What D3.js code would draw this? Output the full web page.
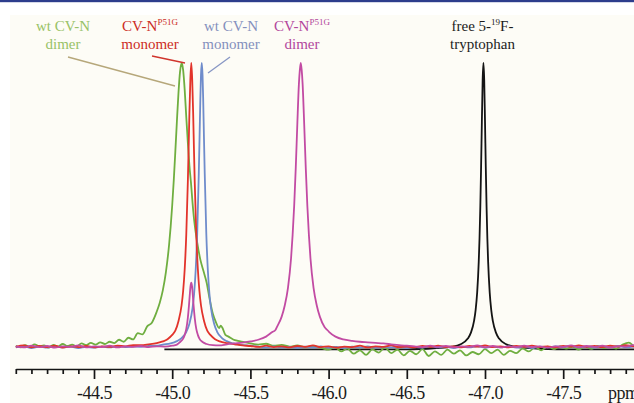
<!DOCTYPE html>
<html lang="en">
<head>
<meta charset="UTF-8">
<title>19F NMR CV-N</title>
<style>
  body { margin: 0; background: #fff; }
  svg { display: block; }
  text { font-family: "Liberation Serif", "Times New Roman", serif; }
</style>
</head>
<body>
<div class="canvas"></div>
<script src="https://cdnjs.cloudflare.com/ajax/libs/d3/7.8.5/d3.min.js"></script>
<script>
// spectra as [ppm, intensity] (peak top = 100)
const greenDimer = [
  [-44.00, 0.8], [-44.03, 0.2], [-44.06, 1.0], [-44.09, 0.4], [-44.12, 1.3], [-44.15, 0.6], [-44.18, 0.9],
  [-44.21, 0.1], [-44.24, 1.1], [-44.27, 0.5], [-44.30, 1.4], [-44.33, 0.7], [-44.36, 1.2], [-44.39, 0.6],
  [-44.42, 1.6], [-44.45, 1.0], [-44.48, 1.8], [-44.51, 1.2], [-44.54, 2.0], [-44.57, 1.4], [-44.60, 2.2],
  [-44.63, 1.7], [-44.66, 2.9], [-44.69, 2.2], [-44.72, 3.6], [-44.75, 3.0], [-44.78, 5.2], [-44.81, 4.8],
  [-44.84, 7.6], [-44.87, 8.9], [-44.90, 12.6], [-44.92, 15.8], [-44.94, 20.2], [-44.96, 26.7], [-44.98, 36.2],
  [-44.99, 42.5], [-45.00, 50.0], [-45.01, 58.8], [-45.02, 68.9], [-45.03, 79.5], [-45.04, 89.4], [-45.05, 96.9],
  [-45.061, 100], [-45.07, 97.5], [-45.08, 90.5], [-45.09, 81], [-45.10, 72], [-45.11, 64], [-45.12, 58],
  [-45.13, 51], [-45.14, 45], [-45.16, 37], [-45.18, 31], [-45.20, 27], [-45.22, 23], [-45.24, 17],
  [-45.26, 12], [-45.28, 9], [-45.30, 7], [-45.31, 7.8], [-45.32, 7.2], [-45.34, 4.6], [-45.36, 4.0],
  [-45.39, 3.0], [-45.42, 2.5], [-45.46, 2.1], [-45.50, 1.6], [-45.55, 1.2], [-45.60, 1.5], [-45.65, 0.8],
  [-45.70, 1.1], [-45.75, 0.5], [-45.80, 0.9], [-45.85, 0.3], [-45.90, 0.7], [-45.95, 0.1], [-46.00, -0.6],
  [-46.04, 0.4], [-46.08, -1.2], [-46.12, -0.2], [-46.16, -2.0], [-46.20, -0.8], [-46.24, -2.4], [-46.28, -0.5],
  [-46.32, -1.6], [-46.36, 0.2], [-46.40, -1.8], [-46.44, -0.6], [-46.48, -2.6], [-46.52, -1.0], [-46.56, -2.2],
  [-46.60, -0.4], [-46.64, -2.8], [-46.68, -1.2], [-46.72, -2.4], [-46.76, -0.6], [-46.80, -2.0], [-46.84, -0.8],
  [-46.88, -2.6], [-46.92, -1.4], [-46.96, -2.2], [-47.00, -0.4], [-47.04, -1.8], [-47.08, -0.6], [-47.12, -2.4],
  [-47.16, -1.0], [-47.20, -1.8], [-47.24, -0.2], [-47.28, -1.2], [-47.32, 0.3], [-47.36, -0.8], [-47.40, 0.5],
  [-47.44, -0.4], [-47.48, 0.6], [-47.52, -0.2], [-47.56, 0.4], [-47.60, -0.6], [-47.64, 0.5], [-47.68, -0.3],
  [-47.72, 0.7], [-47.76, 0.0], [-47.80, 0.6], [-47.84, -0.2], [-47.88, 1.2], [-47.92, 1.9], [-47.96, 0.5],
  [-48.00, 0.8]
];

const blueMonomer = [
  [-44.00, 0.2], [-44.05, 0.6], [-44.10, 0.0], [-44.15, 0.5], [-44.20, 0.1], [-44.25, 0.6], [-44.30, 0.2],
  [-44.35, 0.5], [-44.40, 0.0], [-44.45, 0.4], [-44.50, 0.1], [-44.55, 0.5], [-44.60, 0.2], [-44.65, 0.6],
  [-44.70, 0.3], [-44.75, 0.5], [-44.80, 0.4], [-44.85, 0.7], [-44.90, 0.8], [-44.94, 1.2], [-44.99, 1.6],
  [-45.03, 2.4], [-45.06, 3.5], [-45.09, 5.6], [-45.11, 8.5], [-45.13, 14.0], [-45.14, 19.0], [-45.15, 27.2],
  [-45.16, 40.2], [-45.17, 61.2], [-45.175, 74.0], [-45.18, 87.5], [-45.184, 95.8], [-45.189, 100],
  [-45.194, 95.8], [-45.198, 87.5], [-45.203, 74.0], [-45.208, 61.2], [-45.218, 40.2], [-45.228, 27.2],
  [-45.238, 19.0], [-45.248, 14.0], [-45.268, 8.5], [-45.288, 5.6], [-45.318, 3.5], [-45.348, 2.4],
  [-45.39, 1.6], [-45.44, 1.1], [-45.50, 0.8], [-45.55, 0.5], [-45.60, 0.2], [-45.65, 0.6], [-45.70, 0.1],
  [-45.75, 0.4], [-45.80, 0.0], [-45.85, 0.5], [-45.90, 0.2], [-45.95, 0.6], [-46.00, 0.1], [-46.05, 0.4],
  [-46.10, 0.0], [-46.15, 0.5], [-46.20, 0.2], [-46.25, 0.6], [-46.30, 0.1], [-46.35, 0.4], [-46.40, 0.2],
  [-46.45, 0.5], [-46.50, 0.0], [-46.55, 0.4], [-46.60, 0.1], [-46.65, 0.6], [-46.70, 0.2], [-46.75, 0.5],
  [-46.80, 0.0], [-46.85, 0.4], [-46.90, 0.2], [-46.95, 0.6], [-47.00, 0.1], [-47.05, 0.5], [-47.10, 0.2],
  [-47.15, 0.6], [-47.20, 0.1], [-47.25, 0.4], [-47.30, 0.0], [-47.35, 0.5], [-47.40, 0.2], [-47.45, 0.6],
  [-47.50, 0.3], [-47.55, 0.7], [-47.60, 0.2], [-47.65, 0.5], [-47.70, 0.1], [-47.75, 0.6], [-47.80, 0.3],
  [-47.85, 0.7], [-47.90, 0.2], [-47.95, 0.5], [-48.00, 0.3]
];

const redMonomer = [
  [-44.00, 0.4], [-44.05, 0.9], [-44.10, 0.2], [-44.15, 0.7], [-44.20, 0.3], [-44.25, 0.8], [-44.30, 0.1],
  [-44.35, 0.6], [-44.40, 0.3], [-44.45, 0.7], [-44.50, 0.2], [-44.55, 0.6], [-44.60, 0.4], [-44.65, 0.8],
  [-44.70, 0.6], [-44.75, 1.0], [-44.80, 1.0], [-44.85, 1.3], [-44.90, 1.7], [-44.94, 2.3], [-44.97, 3.1],
  [-45.00, 4.6], [-45.02, 6.1], [-45.04, 9.4], [-45.06, 15.0], [-45.07, 20.0], [-45.08, 27.7], [-45.09, 39.8],
  [-45.10, 58.3], [-45.105, 70], [-45.11, 82.4], [-45.116, 94], [-45.122, 100], [-45.128, 94], [-45.134, 82.4],
  [-45.139, 70], [-45.144, 58.3], [-45.154, 39.8], [-45.164, 27.7], [-45.174, 20.0], [-45.184, 15.0],
  [-45.204, 9.4], [-45.224, 6.1], [-45.244, 4.6], [-45.274, 3.1], [-45.304, 2.3], [-45.35, 1.7], [-45.40, 1.3],
  [-45.45, 0.9], [-45.50, 0.7], [-45.55, 0.4], [-45.60, 0.8], [-45.65, 0.3], [-45.70, 0.6], [-45.75, 0.2],
  [-45.80, 0.7], [-45.85, 0.4], [-45.90, 0.9], [-45.95, 0.3], [-46.00, 0.6], [-46.05, 0.1], [-46.10, 0.5],
  [-46.15, 0.3], [-46.20, 0.8], [-46.25, 0.2], [-46.30, 0.6], [-46.35, 0.4], [-46.40, 0.9], [-46.45, 0.3],
  [-46.50, 0.5], [-46.55, 0.2], [-46.60, 0.7], [-46.65, 0.4], [-46.70, 0.8], [-46.75, 0.3], [-46.80, 0.6],
  [-46.85, 0.2], [-46.90, 0.7], [-46.95, 0.5], [-47.00, 0.9], [-47.05, 0.3], [-47.10, 0.6], [-47.15, 0.2],
  [-47.20, 0.7], [-47.25, 0.4], [-47.30, 0.8], [-47.35, 0.3], [-47.40, 0.6], [-47.45, 0.2], [-47.50, 0.7],
  [-47.55, 0.5], [-47.60, 0.9], [-47.65, 0.4], [-47.70, 0.7], [-47.75, 0.3], [-47.80, 0.8], [-47.85, 0.5],
  [-47.90, 1.0], [-47.95, 0.6], [-48.00, 0.8]
];

const pinkDimer = [
  [-44.00, 0.6], [-44.05, 0.2], [-44.10, 0.8], [-44.15, 0.3], [-44.20, 0.7], [-44.25, 0.1], [-44.30, 0.6],
  [-44.35, 0.4], [-44.40, 0.9], [-44.45, 0.2], [-44.50, 0.6], [-44.55, 0.3], [-44.60, 0.8], [-44.65, 0.2],
  [-44.70, 0.6], [-44.75, 0.4], [-44.80, 0.7], [-44.85, 0.3], [-44.90, 0.6], [-44.95, 0.5], [-45.00, 0.8],
  [-45.03, 1.2], [-45.05, 2.1], [-45.07, 3.3], [-45.08, 4.6], [-45.09, 6.7], [-45.10, 10.6], [-45.107, 14.8],
  [-45.112, 18.4], [-45.117, 21.6], [-45.122, 22.9], [-45.127, 21.6], [-45.132, 18.4], [-45.137, 14.8],
  [-45.144, 10.6], [-45.154, 6.7], [-45.164, 4.6], [-45.174, 3.3], [-45.194, 2.1], [-45.22, 1.4], [-45.26, 1.0],
  [-45.30, 0.9], [-45.35, 1.3], [-45.40, 1.6], [-45.45, 1.9], [-45.50, 2.3], [-45.55, 2.9], [-45.60, 4.0],
  [-45.64, 5.6], [-45.66, 6.3], [-45.67, 7.4], [-45.70, 11.0], [-45.72, 15.0], [-45.74, 21.0], [-45.76, 31.5],
  [-45.77, 39.7], [-45.78, 50.0], [-45.79, 63.2], [-45.80, 78.5], [-45.81, 92.5], [-45.816, 97.5], [-45.822, 100],
  [-45.828, 97.5], [-45.834, 92.5], [-45.844, 78.5], [-45.854, 63.2], [-45.864, 50.0], [-45.874, 39.7],
  [-45.884, 31.5], [-45.904, 21.0], [-45.924, 15.0], [-45.944, 11.0], [-45.974, 7.4], [-45.99, 6.4],
  [-46.004, 5.6], [-46.044, 4.0], [-46.094, 3.0], [-46.15, 2.5], [-46.20, 2.2], [-46.25, 2.0], [-46.30, 1.8],
  [-46.35, 1.6], [-46.40, 1.3], [-46.45, 1.0], [-46.50, 0.8], [-46.55, 0.6], [-46.60, 0.3], [-46.65, 0.8],
  [-46.70, 0.4], [-46.75, 0.7], [-46.80, 0.2], [-46.85, 0.6], [-46.90, 0.4], [-46.95, 0.9], [-47.00, 0.3],
  [-47.05, 0.7], [-47.10, 0.2], [-47.15, 0.6], [-47.20, 0.4], [-47.25, 0.8], [-47.30, 0.3], [-47.35, 0.6],
  [-47.40, 0.1], [-47.45, 0.6], [-47.50, 0.4], [-47.55, 0.9], [-47.60, 0.3], [-47.65, 0.7], [-47.70, 0.4],
  [-47.75, 0.8], [-47.80, 0.2], [-47.85, 0.6], [-47.90, 0.5], [-47.95, 1.0], [-48.00, 0.6]
];

const freeTrp = [
  [-44.95, -0.5], [-45.50, -0.5], [-46.00, -0.5], [-46.50, -0.5], [-46.69, 0.0], [-46.79, 0.5], [-46.84, 1.2],
  [-46.89, 3.3], [-46.91, 5.4], [-46.93, 9.5], [-46.94, 13.3], [-46.95, 19.5], [-46.96, 30.3], [-46.965, 38.5],
  [-46.97, 49.5], [-46.975, 63.5], [-46.98, 79.5], [-46.985, 94], [-46.99, 100], [-46.995, 94], [-47.00, 79.5],
  [-47.005, 63.5], [-47.01, 49.5], [-47.015, 38.5], [-47.02, 30.3], [-47.03, 19.5], [-47.04, 13.3],
  [-47.05, 9.5], [-47.07, 5.4], [-47.09, 3.3], [-47.14, 1.2], [-47.19, 0.5], [-47.29, 0.0], [-47.50, -0.5],
  [-48.00, -0.5]
];

const majorTicks = [-44.5, -45.0, -45.5, -46.0, -46.5, -47.0, -47.5];
const tickLabels = ['-44.5', '-45.0', '-45.5', '-46.0', '-46.5', '-47.0', '-47.5'];

const series = [
  { name: 'free 5-19F-tryptophan', data: freeTrp, color: '#141414' },
  { name: 'wt CV-N dimer', data: greenDimer, color: '#6fae40' },
  { name: 'wt CV-N monomer', data: blueMonomer, color: '#6f8ccb' },
  { name: 'CV-N P51G monomer', data: redMonomer, color: '#e2332b' },
  { name: 'CV-N P51G dimer', data: pinkDimer, color: '#c24ba3' }
];

const width = 634, height = 403;

const svg = d3.select('.canvas').append('svg')
  .attr('width', width)
  .attr('height', height);

// page frame: white page, cream figure panel, blue rule on top
svg.append('rect').attr('width', width).attr('height', height).attr('fill', '#ffffff');
svg.append('rect').attr('x', 10).attr('y', 15).attr('width', width - 10).attr('height', height - 15)
  .attr('fill', '#fdfcf6');
svg.append('rect').attr('width', width).attr('height', 2.2).attr('fill', '#2d3d8c');

const x = d3.scaleLinear().domain([-44.0, -48.0]).range([15.8, 641.4]);
const y = d3.scaleLinear().domain([0, 100]).range([348, 63]);

const line = d3.line()
  .x(d => x(d[0]))
  .y(d => y(d[1]))
  .curve(d3.curveMonotoneX);

svg.append('g')
  .selectAll('path')
  .data(series)
  .join('path')
  .attr('d', d => line(d.data))
  .attr('fill', 'none')
  .attr('stroke', d => d.color)
  .attr('stroke-width', 1.8)
  .attr('stroke-linejoin', 'round');

// x axis (minor ticks every 0.1 ppm)
const axisY = 369;
const minorTicks = x.ticks(40).filter(t => !majorTicks.some(m => Math.abs(m - t) < 1e-6));

const minorAxis = svg.append('g')
  .attr('transform', `translate(0,${axisY})`)
  .call(d3.axisBottom(x).tickValues(minorTicks).tickSize(5).tickSizeOuter(0).tickFormat(''));

const majorAxis = svg.append('g')
  .attr('transform', `translate(0,${axisY})`)
  .call(d3.axisBottom(x).tickValues(majorTicks).tickSize(10).tickSizeOuter(0)
    .tickFormat((d, i) => tickLabels[i]));

[minorAxis, majorAxis].forEach(g => {
  g.select('.domain').attr('stroke', '#151515').attr('stroke-width', 1.6);
  g.selectAll('.tick line').attr('stroke', '#151515').attr('stroke-width', 1.7);
});
minorAxis.select('.domain').remove();

majorAxis.selectAll('.tick text')
  .attr('y', 30)
  .attr('dy', null)
  .attr('fill', '#1a1a1a')
  .style('font-family', '"Liberation Serif", serif')
  .style('font-size', '18px')
  .style('letter-spacing', '-0.5px');

// unit label runs off the right edge, as in the original figure
svg.append('text')
  .attr('x', 608)
  .attr('y', 399)
  .attr('fill', '#1a1a1a')
  .style('font-size', '18px')
  .style('letter-spacing', '-0.5px')
  .text('ppm');

// peak labels
const labels = [
  { cx: 63, color: '#98c266', l1: ['wt CV-N'], l2: 'dimer' },
  { cx: 150, color: '#cc2c25', l1: ['CV-N', 'P51G'], l2: 'monomer' },
  { cx: 231, color: '#8490bd', l1: ['wt CV-N'], l2: 'monomer' },
  { cx: 302, color: '#b2479c', l1: ['CV-N', 'P51G'], l2: 'dimer' },
  { cx: 482.5, color: '#1c1c1c', l1: ['free 5-', '19', 'F-'], l2: 'tryptophan' }
];

labels.forEach(lb => {
  const t1 = svg.append('text')
    .attr('x', lb.cx)
    .attr('y', 31)
    .attr('text-anchor', 'middle')
    .attr('fill', lb.color)
    .style('font-size', '15px');
  lb.l1.forEach((part, i) => {
    const sup = i % 2 === 1;
    t1.append('tspan')
      .attr('dy', sup ? -6 : (i > 0 ? 6 : 0))
      .style('font-size', sup ? '9px' : '15px')
      .text(part);
  });
  svg.append('text')
    .attr('x', lb.cx)
    .attr('y', 49)
    .attr('text-anchor', 'middle')
    .attr('fill', lb.color)
    .style('font-size', '15px')
    .text(lb.l2);
});

// leader lines from labels to peaks
const leaders = [
  { x1: 68, y1: 57, x2: 175, y2: 86, color: '#b6a77a' },
  { x1: 152, y1: 56, x2: 185, y2: 63, color: '#d0342c' },
  { x1: 230, y1: 57, x2: 208, y2: 73, color: '#8796c4' }
];

svg.append('g')
  .selectAll('line')
  .data(leaders)
  .join('line')
  .attr('x1', d => d.x1)
  .attr('y1', d => d.y1)
  .attr('x2', d => d.x2)
  .attr('y2', d => d.y2)
  .attr('stroke', d => d.color)
  .attr('stroke-width', 1.3);
</script>
</body>
</html>
